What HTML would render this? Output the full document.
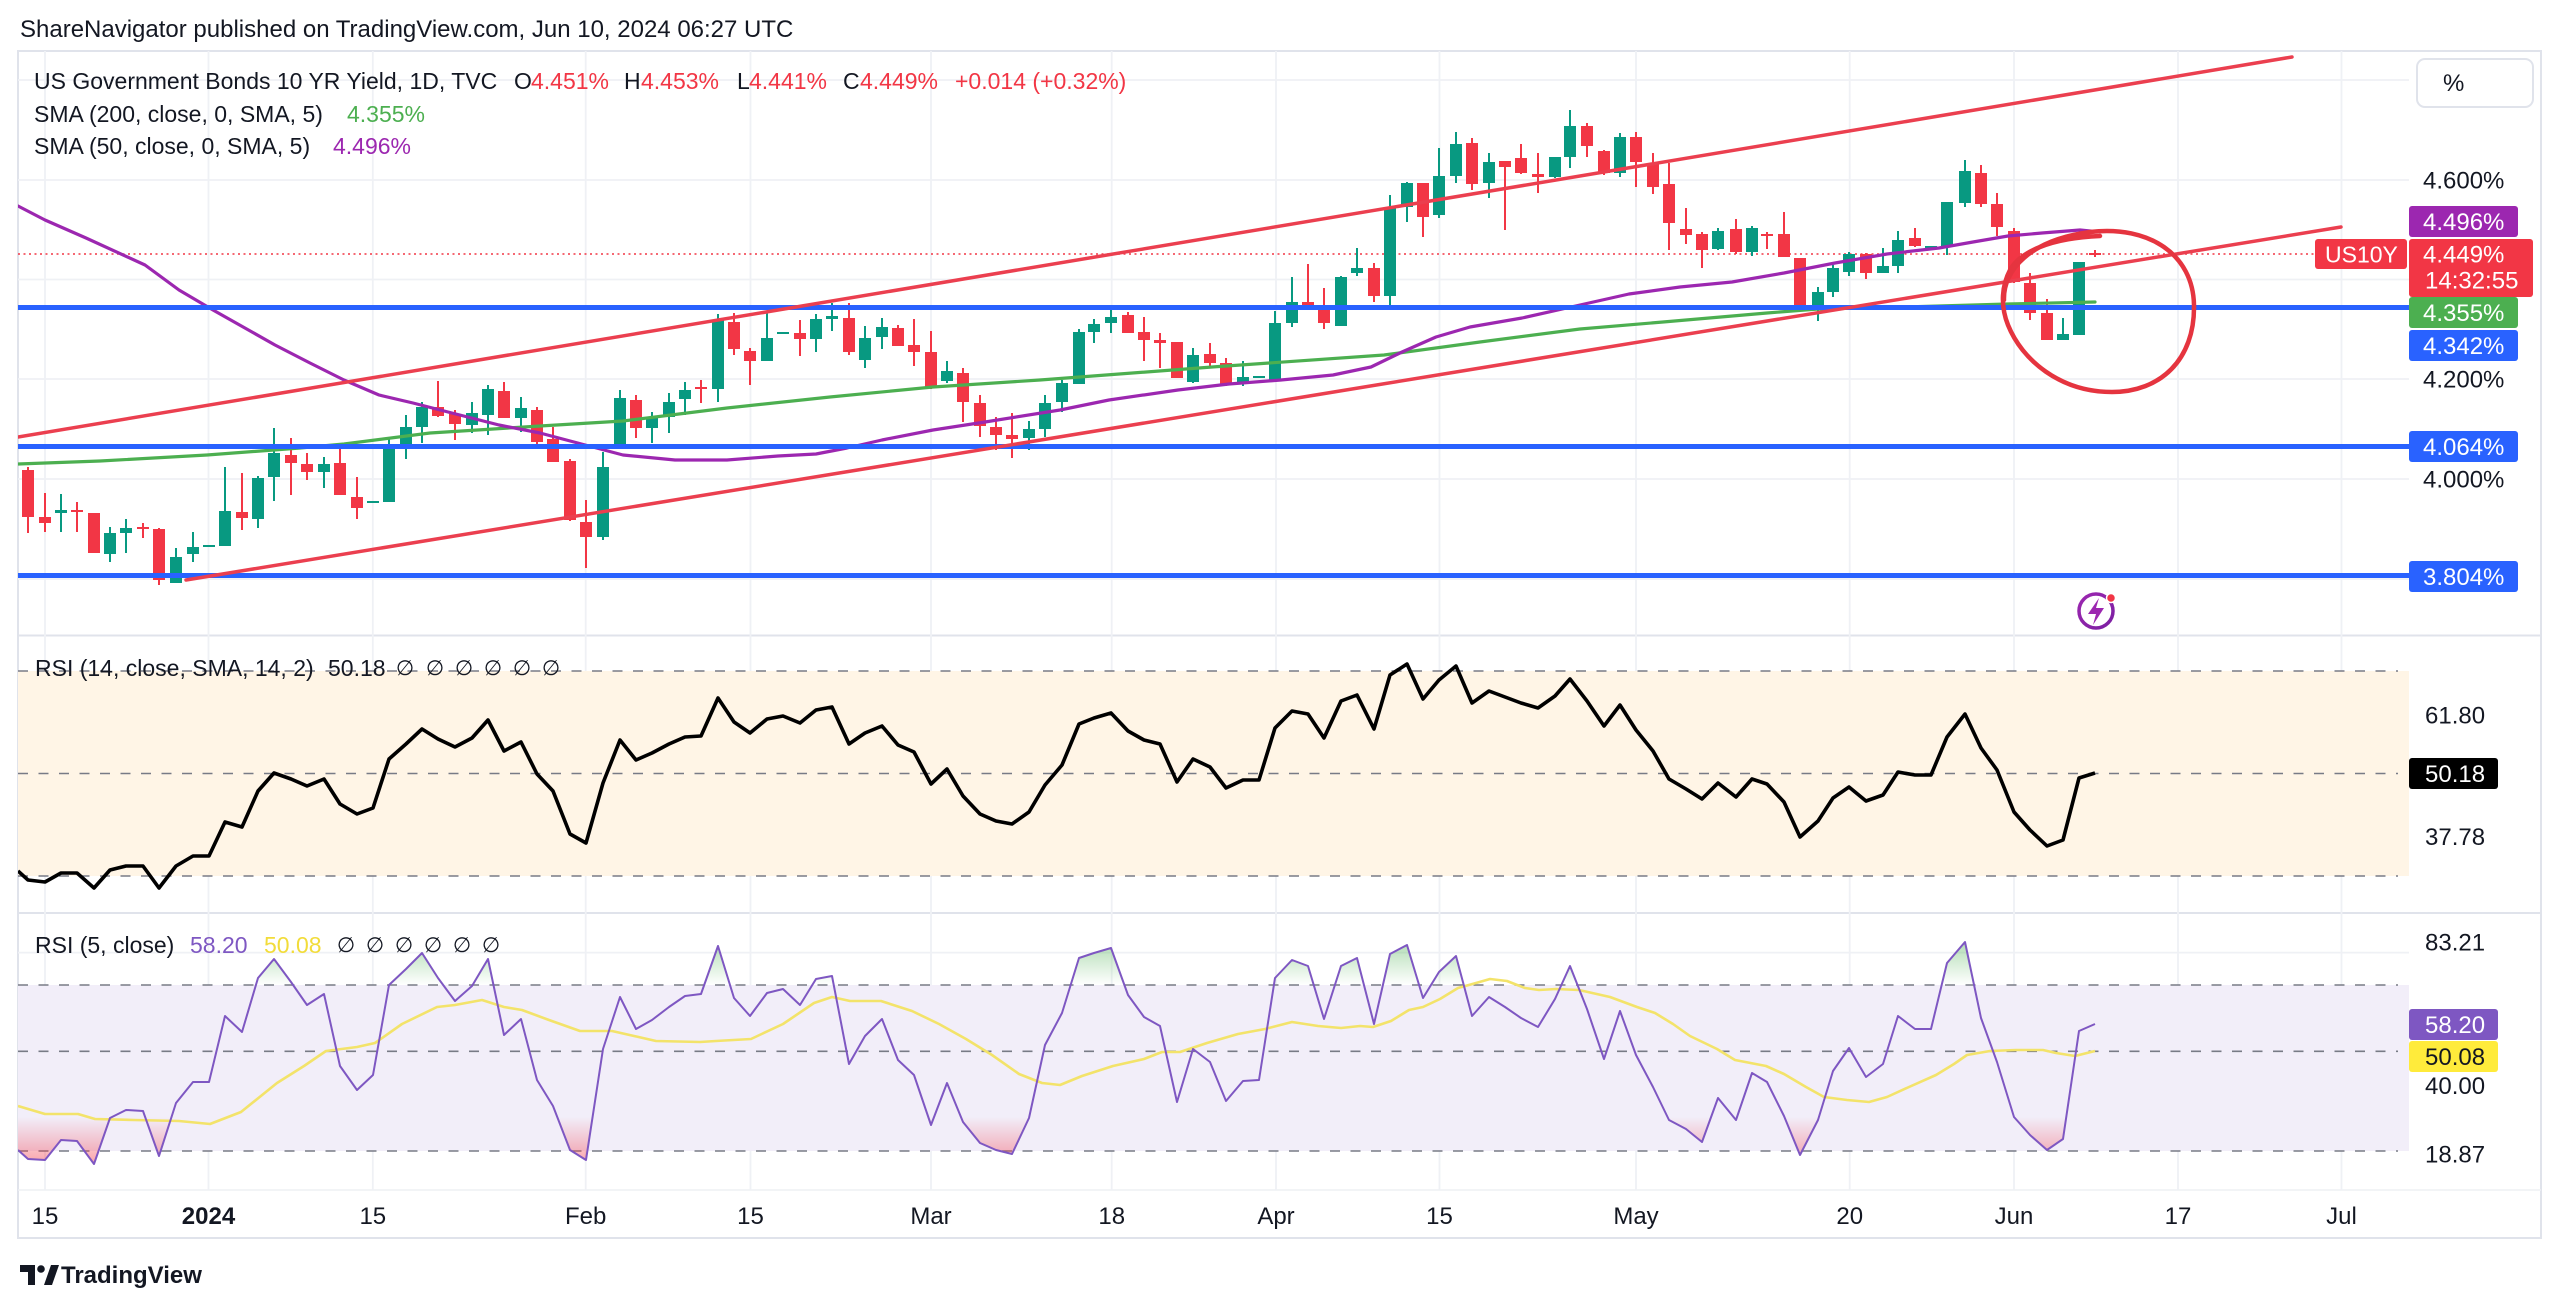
<!DOCTYPE html>
<html><head><meta charset="utf-8"><style>
html,body{margin:0;padding:0;background:#fff;}
svg{display:block;font-family:"Liberation Sans","DejaVu Sans",sans-serif;}
</style></head><body>
<svg width="2560" height="1307" viewBox="0 0 2560 1307" xmlns="http://www.w3.org/2000/svg">
<defs>
<clipPath id="plot"><rect x="18" y="51" width="2391" height="1140"/></clipPath>
<clipPath id="obClip"><rect x="18" y="900" width="2391" height="85"/></clipPath>
<clipPath id="osClip"><rect x="18" y="1117" width="2391" height="80"/></clipPath>
<linearGradient id="gGreen" gradientUnits="userSpaceOnUse" x1="0" y1="940" x2="0" y2="985"><stop offset="0" stop-color="#4CAF50" stop-opacity="0.45"/><stop offset="1" stop-color="#4CAF50" stop-opacity="0"/></linearGradient>
<linearGradient id="gRed" gradientUnits="userSpaceOnUse" x1="0" y1="1117" x2="0" y2="1163"><stop offset="0" stop-color="#F23645" stop-opacity="0"/><stop offset="1" stop-color="#F23645" stop-opacity="0.45"/></linearGradient>
<linearGradient id="gIcon" x1="0" y1="0" x2="1" y2="1"><stop offset="0" stop-color="#9C27B0"/><stop offset="1" stop-color="#7B1FA2"/></linearGradient>
</defs>

<!-- title -->
<text x="20" y="37" font-size="24" fill="#131722">ShareNavigator published on TradingView.com, Jun 10, 2024 06:27 UTC</text>

<!-- frame -->
<rect x="18" y="51" width="2523" height="1187" fill="none" stroke="#E0E3EB" stroke-width="2"/>
<line x1="18" y1="635.5" x2="2541" y2="635.5" stroke="#E0E3EB" stroke-width="2"/>
<line x1="18" y1="913" x2="2541" y2="913" stroke="#E0E3EB" stroke-width="2"/>
<line x1="18" y1="1190" x2="2541" y2="1190" stroke="#EEF0F4" stroke-width="1.5"/>

<!-- grid -->
<g stroke="#EFF1F5" stroke-width="1.8">
<line x1="45" y1="51" x2="45" y2="1190"/><line x1="208.5" y1="51" x2="208.5" y2="1190"/><line x1="372.8" y1="51" x2="372.8" y2="1190"/><line x1="585.7" y1="51" x2="585.7" y2="1190"/><line x1="750.5" y1="51" x2="750.5" y2="1190"/><line x1="931" y1="51" x2="931" y2="1190"/><line x1="1111.7" y1="51" x2="1111.7" y2="1190"/><line x1="1276" y1="51" x2="1276" y2="1190"/><line x1="1439.5" y1="51" x2="1439.5" y2="1190"/><line x1="1636" y1="51" x2="1636" y2="1190"/><line x1="1849.7" y1="51" x2="1849.7" y2="1190"/><line x1="2014" y1="51" x2="2014" y2="1190"/><line x1="2178" y1="51" x2="2178" y2="1190"/><line x1="2341.5" y1="51" x2="2341.5" y2="1190"/>
<line x1="18" y1="80" x2="2409" y2="80"/><line x1="18" y1="180" x2="2409" y2="180"/><line x1="18" y1="279.5" x2="2409" y2="279.5"/><line x1="18" y1="379" x2="2409" y2="379"/><line x1="18" y1="479" x2="2409" y2="479"/><line x1="18" y1="579" x2="2409" y2="579"/>
<line x1="18" y1="723" x2="2409" y2="723"/><line x1="18" y1="825" x2="2409" y2="825"/>
<line x1="18" y1="952.6" x2="2409" y2="952.6"/><line x1="18" y1="1018.4" x2="2409" y2="1018.4"/><line x1="18" y1="1085" x2="2409" y2="1085"/>
</g>

<!-- RSI bands -->
<rect x="18" y="671" width="2391" height="205" fill="#FFF5E6"/>
<rect x="18" y="985" width="2391" height="166" fill="#F2EEF9"/>
<g stroke="#787B86" stroke-width="1.6" stroke-dasharray="10 10.5">
<line x1="18" y1="671" x2="2398" y2="671"/><line x1="18" y1="773.5" x2="2398" y2="773.5"/><line x1="18" y1="876" x2="2398" y2="876"/>
<line x1="18" y1="985" x2="2398" y2="985"/><line x1="18" y1="1051.3" x2="2398" y2="1051.3"/><line x1="18" y1="1151" x2="2398" y2="1151"/>
</g>

<g clip-path="url(#plot)">
<!-- dotted price line -->
<line x1="18" y1="254" x2="2409" y2="254" stroke="#F23645" stroke-width="1.6" stroke-dasharray="2 3.5"/>

<!-- green candles -->
<g fill="#089981">
<rect x="55" y="510" width="12" height="3"/><rect x="60" y="494" width="2" height="38"/>
<rect x="104" y="533" width="12" height="21"/><rect x="109" y="527" width="2" height="35"/>
<rect x="120" y="528" width="12" height="5"/><rect x="125" y="519" width="2" height="34"/>
<rect x="170" y="557" width="12" height="26"/><rect x="175" y="548" width="2" height="35"/>
<rect x="187" y="547" width="12" height="7"/><rect x="192" y="532" width="2" height="30"/>
<rect x="203" y="545" width="12" height="2"/>
<rect x="219" y="511" width="12" height="35"/><rect x="224" y="467" width="2" height="79"/>
<rect x="252" y="478" width="12" height="41"/><rect x="257" y="476" width="2" height="52"/>
<rect x="268" y="453" width="12" height="24"/><rect x="273" y="428" width="2" height="73"/>
<rect x="318" y="464" width="12" height="8"/><rect x="323" y="457" width="2" height="31"/>
<rect x="367" y="501" width="12" height="2"/>
<rect x="383" y="447" width="12" height="55"/><rect x="388" y="437" width="2" height="65"/>
<rect x="400" y="427" width="12" height="20"/><rect x="405" y="415" width="2" height="44"/>
<rect x="416" y="407" width="12" height="20"/><rect x="421" y="402" width="2" height="41"/>
<rect x="466" y="413" width="12" height="12"/><rect x="471" y="402" width="2" height="31"/>
<rect x="482" y="389" width="12" height="26"/><rect x="487" y="385" width="2" height="50"/>
<rect x="515" y="408" width="12" height="10"/><rect x="520" y="397" width="2" height="35"/>
<rect x="597" y="467" width="12" height="70"/><rect x="602" y="452" width="2" height="88"/>
<rect x="614" y="398" width="12" height="47"/><rect x="619" y="390" width="2" height="55"/>
<rect x="646" y="417" width="12" height="11"/><rect x="651" y="412" width="2" height="31"/>
<rect x="663" y="402" width="12" height="15"/><rect x="668" y="393" width="2" height="40"/>
<rect x="679" y="390" width="12" height="9"/><rect x="684" y="382" width="2" height="33"/>
<rect x="712" y="320" width="12" height="69"/><rect x="717" y="314" width="2" height="88"/>
<rect x="761" y="338" width="12" height="23"/><rect x="766" y="313" width="2" height="48"/>
<rect x="777" y="332" width="12" height="2"/>
<rect x="810" y="319" width="12" height="20"/><rect x="815" y="314" width="2" height="38"/>
<rect x="826" y="316" width="12" height="3"/><rect x="831" y="303" width="2" height="28"/>
<rect x="859" y="338" width="12" height="22"/><rect x="864" y="326" width="2" height="42"/>
<rect x="876" y="327" width="12" height="10"/><rect x="881" y="318" width="2" height="31"/>
<rect x="941" y="371" width="12" height="10"/><rect x="946" y="361" width="2" height="22"/>
<rect x="1023" y="429" width="12" height="9"/><rect x="1028" y="421" width="2" height="29"/>
<rect x="1039" y="403" width="12" height="26"/><rect x="1044" y="395" width="2" height="42"/>
<rect x="1056" y="383" width="12" height="19"/><rect x="1061" y="380" width="2" height="32"/>
<rect x="1073" y="332" width="12" height="52"/><rect x="1078" y="329" width="2" height="55"/>
<rect x="1088" y="324" width="12" height="8"/><rect x="1093" y="319" width="2" height="24"/>
<rect x="1105" y="317" width="12" height="6"/><rect x="1110" y="306" width="2" height="27"/>
<rect x="1187" y="355" width="12" height="27"/><rect x="1192" y="348" width="2" height="35"/>
<rect x="1237" y="377" width="12" height="7"/><rect x="1242" y="361" width="2" height="25"/>
<rect x="1253" y="376" width="12" height="2"/>
<rect x="1269" y="323" width="12" height="57"/><rect x="1274" y="311" width="2" height="71"/>
<rect x="1286" y="302" width="12" height="21"/><rect x="1291" y="277" width="2" height="50"/>
<rect x="1335" y="277" width="12" height="49"/><rect x="1340" y="276" width="2" height="50"/>
<rect x="1351" y="268" width="12" height="5"/><rect x="1356" y="248" width="2" height="28"/>
<rect x="1384" y="207" width="12" height="89"/><rect x="1389" y="195" width="2" height="110"/>
<rect x="1401" y="183" width="12" height="24"/><rect x="1406" y="182" width="2" height="40"/>
<rect x="1433" y="176" width="12" height="39"/><rect x="1438" y="148" width="2" height="70"/>
<rect x="1450" y="144" width="12" height="32"/><rect x="1455" y="132" width="2" height="51"/>
<rect x="1483" y="162" width="12" height="21"/><rect x="1488" y="153" width="2" height="45"/>
<rect x="1549" y="157" width="12" height="20"/><rect x="1554" y="157" width="2" height="21"/>
<rect x="1564" y="126" width="12" height="31"/><rect x="1569" y="110" width="2" height="58"/>
<rect x="1614" y="137" width="12" height="36"/><rect x="1619" y="133" width="2" height="44"/>
<rect x="1712" y="231" width="12" height="18"/><rect x="1717" y="228" width="2" height="22"/>
<rect x="1746" y="228" width="12" height="24"/><rect x="1751" y="226" width="2" height="30"/>
<rect x="1812" y="292" width="12" height="16"/><rect x="1817" y="287" width="2" height="34"/>
<rect x="1827" y="268" width="12" height="24"/><rect x="1832" y="265" width="2" height="32"/>
<rect x="1843" y="254" width="12" height="18"/><rect x="1848" y="252" width="2" height="24"/>
<rect x="1877" y="266" width="12" height="7"/><rect x="1882" y="248" width="2" height="25"/>
<rect x="1892" y="240" width="12" height="26"/><rect x="1897" y="231" width="2" height="42"/>
<rect x="1925" y="246" width="12" height="2"/>
<rect x="1941" y="202" width="12" height="45"/><rect x="1946" y="202" width="2" height="53"/>
<rect x="1959" y="171" width="12" height="32"/><rect x="1964" y="160" width="2" height="47"/>
<rect x="2057" y="334" width="12" height="6"/><rect x="2062" y="318" width="2" height="22"/>
<rect x="2073" y="262" width="12" height="73"/>
</g>

<!-- red candles -->
<g fill="#F23645">
<rect x="22" y="470" width="12" height="47"/><rect x="27" y="467" width="2" height="66"/>
<rect x="39" y="517" width="12" height="6"/><rect x="44" y="493" width="2" height="39"/>
<rect x="71" y="510" width="12" height="2"/><rect x="76" y="502" width="2" height="30"/>
<rect x="88" y="513" width="12" height="40"/>
<rect x="137" y="527" width="12" height="2"/><rect x="142" y="523" width="2" height="15"/>
<rect x="153" y="529" width="12" height="51"/><rect x="158" y="528" width="2" height="57"/>
<rect x="236" y="512" width="12" height="6"/><rect x="241" y="473" width="2" height="57"/>
<rect x="285" y="455" width="12" height="8"/><rect x="290" y="438" width="2" height="57"/>
<rect x="301" y="464" width="12" height="8"/><rect x="306" y="453" width="2" height="27"/>
<rect x="334" y="463" width="12" height="32"/><rect x="339" y="447" width="2" height="48"/>
<rect x="351" y="497" width="12" height="11"/><rect x="356" y="477" width="2" height="42"/>
<rect x="432" y="407" width="12" height="9"/><rect x="437" y="381" width="2" height="36"/>
<rect x="449" y="414" width="12" height="10"/><rect x="454" y="410" width="2" height="30"/>
<rect x="498" y="391" width="12" height="27"/><rect x="503" y="382" width="2" height="36"/>
<rect x="531" y="410" width="12" height="32"/><rect x="536" y="407" width="2" height="40"/>
<rect x="547" y="439" width="12" height="23"/><rect x="552" y="427" width="2" height="35"/>
<rect x="564" y="461" width="12" height="59"/><rect x="569" y="459" width="2" height="62"/>
<rect x="580" y="522" width="12" height="15"/><rect x="585" y="500" width="2" height="68"/>
<rect x="630" y="400" width="12" height="28"/><rect x="635" y="395" width="2" height="43"/>
<rect x="695" y="387" width="12" height="2"/><rect x="700" y="380" width="2" height="23"/>
<rect x="728" y="322" width="12" height="27"/><rect x="733" y="313" width="2" height="42"/>
<rect x="744" y="351" width="12" height="10"/><rect x="749" y="348" width="2" height="37"/>
<rect x="794" y="333" width="12" height="6"/><rect x="799" y="320" width="2" height="36"/>
<rect x="843" y="318" width="12" height="34"/><rect x="848" y="303" width="2" height="52"/>
<rect x="892" y="328" width="12" height="18"/><rect x="897" y="325" width="2" height="21"/>
<rect x="908" y="345" width="12" height="7"/><rect x="913" y="319" width="2" height="47"/>
<rect x="925" y="352" width="12" height="35"/><rect x="930" y="331" width="2" height="58"/>
<rect x="957" y="373" width="12" height="29"/><rect x="962" y="368" width="2" height="54"/>
<rect x="974" y="403" width="12" height="23"/><rect x="979" y="395" width="2" height="42"/>
<rect x="990" y="427" width="12" height="8"/><rect x="995" y="417" width="2" height="33"/>
<rect x="1006" y="435" width="12" height="4"/><rect x="1011" y="413" width="2" height="45"/>
<rect x="1122" y="315" width="12" height="18"/><rect x="1127" y="312" width="2" height="21"/>
<rect x="1138" y="332" width="12" height="8"/><rect x="1143" y="317" width="2" height="44"/>
<rect x="1154" y="340" width="12" height="3"/><rect x="1159" y="333" width="2" height="35"/>
<rect x="1171" y="342" width="12" height="36"/>
<rect x="1204" y="354" width="12" height="9"/><rect x="1209" y="343" width="2" height="23"/>
<rect x="1220" y="363" width="12" height="21"/><rect x="1225" y="358" width="2" height="28"/>
<rect x="1302" y="302" width="12" height="3"/><rect x="1307" y="264" width="2" height="43"/>
<rect x="1318" y="307" width="12" height="16"/><rect x="1323" y="288" width="2" height="41"/>
<rect x="1368" y="268" width="12" height="28"/><rect x="1373" y="263" width="2" height="39"/>
<rect x="1417" y="183" width="12" height="34"/><rect x="1422" y="183" width="2" height="54"/>
<rect x="1466" y="143" width="12" height="41"/><rect x="1471" y="138" width="2" height="52"/>
<rect x="1499" y="161" width="12" height="6"/><rect x="1504" y="161" width="2" height="69"/>
<rect x="1515" y="158" width="12" height="15"/><rect x="1520" y="144" width="2" height="30"/>
<rect x="1532" y="174" width="12" height="3"/><rect x="1537" y="153" width="2" height="40"/>
<rect x="1581" y="126" width="12" height="20"/><rect x="1586" y="123" width="2" height="34"/>
<rect x="1598" y="151" width="12" height="22"/><rect x="1603" y="150" width="2" height="25"/>
<rect x="1630" y="137" width="12" height="25"/><rect x="1635" y="132" width="2" height="55"/>
<rect x="1647" y="163" width="12" height="24"/><rect x="1652" y="153" width="2" height="41"/>
<rect x="1663" y="184" width="12" height="39"/><rect x="1668" y="163" width="2" height="87"/>
<rect x="1680" y="229" width="12" height="6"/><rect x="1685" y="208" width="2" height="36"/>
<rect x="1696" y="234" width="12" height="16"/><rect x="1701" y="232" width="2" height="36"/>
<rect x="1730" y="229" width="12" height="23"/><rect x="1735" y="219" width="2" height="35"/>
<rect x="1761" y="234" width="12" height="2"/><rect x="1766" y="232" width="2" height="17"/>
<rect x="1778" y="234" width="12" height="23"/><rect x="1783" y="212" width="2" height="45"/>
<rect x="1794" y="258" width="12" height="50"/>
<rect x="1860" y="254" width="12" height="19"/><rect x="1865" y="253" width="2" height="26"/>
<rect x="1909" y="238" width="12" height="8"/><rect x="1914" y="228" width="2" height="19"/>
<rect x="1975" y="173" width="12" height="31"/><rect x="1980" y="165" width="2" height="42"/>
<rect x="1991" y="204" width="12" height="23"/><rect x="1996" y="193" width="2" height="43"/>
<rect x="2008" y="231" width="12" height="51"/><rect x="2013" y="228" width="2" height="55"/>
<rect x="2024" y="283" width="12" height="30"/><rect x="2029" y="273" width="2" height="47"/>
<rect x="2041" y="313" width="12" height="27"/><rect x="2046" y="299" width="2" height="41"/>
<rect x="2089" y="253" width="12" height="2"/><rect x="2094" y="250" width="2" height="7"/>
</g>

<!-- SMA 200 -->
<polyline fill="none" stroke="#4CAF50" stroke-width="3.2" stroke-linejoin="round" stroke-linecap="round" points="18,464 100,461 207,455 300,448 344,444 430,433 540,426 623,421 727,408 830,397 933,387 1040,380 1212,367 1384,355 1480,342 1580,329 1663,322 1767,313 1818,309 1904,307 2008,304 2095,302"/>
<!-- SMA 50 -->
<polyline fill="none" stroke="#9C27B0" stroke-width="3.2" stroke-linejoin="round" stroke-linecap="round" points="18,206 45,220 86,238 145,265 179,290 213,310 275,345 310,363 344,380 379,395 413,403 448,412 499,425 540,433 589,446 623,455 675,460 727,460 778,456 816,454 847,448 882,440 933,430 985,422 1060,410 1109,400 1178,390 1229,384 1281,380 1333,375 1371,367 1402,352 1436,337 1470,327 1522,318 1580,305 1629,294 1680,287 1732,282 1784,273 1835,263 1887,254 1939,248 1973,242 2008,236 2042,233 2080,230 2100,232"/>

<!-- blue horizontal lines -->
<g stroke="#2962FF" stroke-width="5">
<line x1="18" y1="307.5" x2="2409" y2="307.5"/>
<line x1="18" y1="446.5" x2="2409" y2="446.5"/>
<line x1="18" y1="575.5" x2="2409" y2="575.5"/>
</g>

<!-- channel lines -->
<g stroke="#EB3F4F" stroke-width="3.5" stroke-linecap="round">
<line x1="18" y1="437" x2="2292" y2="57"/>
<line x1="186" y1="580" x2="2341" y2="227"/>
</g>

<!-- hand drawn circle -->
<path d="M 2004 300 C 2003 270, 2030 240, 2090 232 C 2150 225, 2193 255, 2194 305 C 2195 360, 2160 392, 2112 392 C 2060 392, 2022 360, 2008 325 C 2000 305, 2002 285, 2010 270 C 2020 252, 2050 238, 2100 236" fill="none" stroke="#E5343F" stroke-width="4.5" stroke-linecap="round"/>

<!-- lightning icon -->
<circle cx="2096" cy="611" r="17" fill="#fff" stroke="url(#gIcon)" stroke-width="3.5"/>
<path d="M2099 598 L2088 614 L2096 614 L2093 625 L2104 608 L2096 608 Z" fill="#9C27B0"/>
<circle cx="2111" cy="598" r="4.5" fill="#F23645" stroke="#fff" stroke-width="1.5"/>

<!-- RSI 14 -->
<polyline fill="none" stroke="#000" stroke-width="3.6" stroke-linejoin="round" points="18,871 28,880 45,882 61,873 77,873 94,888 110,870 126,866 143,866 159,888 176,866 193,856 209,856 225,822 242,827 258,791 274,773 291,779 307,786 324,779 340,804 357,814 373,808 389,759 406,744 422,729 438,739 455,747 472,738 488,720 504,751 521,742 537,774 553,791 570,834 586,843 603,783 620,740 636,760 652,753 669,744 685,737 701,736 718,698 734,722 750,733 767,719 783,716 800,723 816,710 832,707 849,744 865,733 882,726 898,745 914,752 931,784 947,769 963,796 980,814 996,821 1012,824 1029,812 1045,785 1062,765 1079,724 1094,718 1111,713 1128,731 1144,740 1160,744 1177,782 1193,759 1210,767 1226,788 1243,780 1259,780 1275,728 1292,711 1308,714 1324,738 1341,701 1357,695 1374,729 1390,675 1407,664 1423,699 1439,680 1456,666 1472,703 1489,691 1505,697 1521,703 1538,708 1555,696 1570,679 1587,701 1604,726 1620,705 1636,730 1653,751 1669,779 1686,789 1702,799 1718,783 1736,797 1752,779 1767,784 1784,802 1800,837 1818,821 1833,798 1849,787 1866,801 1883,795 1898,772 1915,775 1931,775 1947,737 1965,714 1981,748 1997,770 2014,812 2030,830 2047,846 2063,840 2079,778 2095,773"/>

<!-- RSI 5 fills -->
<polygon clip-path="url(#obClip)" fill="url(#gGreen)" points="18,1150 28,1159 45,1160 61,1140 77,1141 94,1164 110,1118 126,1110 143,1111 159,1156 176,1103 193,1082 209,1082 225,1016 242,1032 258,978 274,959 291,982 307,1005 324,994 340,1066 357,1090 373,1075 389,985 406,969 422,953 438,978 455,1001 472,986 488,959 504,1035 521,1019 537,1080 553,1106 570,1150 586,1160 603,1049 620,997 636,1029 652,1020 669,1007 685,996 701,994 718,946 734,998 750,1016 767,993 783,989 800,1005 816,979 832,976 849,1064 865,1036 882,1019 898,1060 914,1075 931,1125 947,1083 963,1122 980,1143 996,1150 1012,1154 1029,1118 1045,1045 1062,1013 1079,958 1094,953 1111,948 1128,995 1144,1017 1160,1026 1177,1102 1193,1049 1210,1062 1226,1101 1243,1081 1259,1080 1275,978 1292,960 1308,966 1324,1019 1341,966 1357,958 1374,1024 1390,954 1407,945 1423,998 1439,972 1456,956 1472,1016 1489,997 1505,1007 1521,1018 1538,1027 1555,999 1570,966 1587,1009 1604,1059 1620,1011 1636,1055 1653,1087 1669,1120 1686,1129 1702,1142 1718,1098 1736,1120 1752,1073 1767,1082 1784,1116 1800,1155 1818,1120 1833,1071 1849,1048 1866,1077 1883,1064 1898,1016 1915,1029 1931,1029 1947,963 1965,942 1981,1018 1997,1062 2014,1117 2030,1135 2047,1150 2063,1139 2079,1031 2095,1024 2095,985 18,985"/>
<polygon clip-path="url(#osClip)" fill="url(#gRed)" points="18,1150 28,1159 45,1160 61,1140 77,1141 94,1164 110,1118 126,1110 143,1111 159,1156 176,1103 193,1082 209,1082 225,1016 242,1032 258,978 274,959 291,982 307,1005 324,994 340,1066 357,1090 373,1075 389,985 406,969 422,953 438,978 455,1001 472,986 488,959 504,1035 521,1019 537,1080 553,1106 570,1150 586,1160 603,1049 620,997 636,1029 652,1020 669,1007 685,996 701,994 718,946 734,998 750,1016 767,993 783,989 800,1005 816,979 832,976 849,1064 865,1036 882,1019 898,1060 914,1075 931,1125 947,1083 963,1122 980,1143 996,1150 1012,1154 1029,1118 1045,1045 1062,1013 1079,958 1094,953 1111,948 1128,995 1144,1017 1160,1026 1177,1102 1193,1049 1210,1062 1226,1101 1243,1081 1259,1080 1275,978 1292,960 1308,966 1324,1019 1341,966 1357,958 1374,1024 1390,954 1407,945 1423,998 1439,972 1456,956 1472,1016 1489,997 1505,1007 1521,1018 1538,1027 1555,999 1570,966 1587,1009 1604,1059 1620,1011 1636,1055 1653,1087 1669,1120 1686,1129 1702,1142 1718,1098 1736,1120 1752,1073 1767,1082 1784,1116 1800,1155 1818,1120 1833,1071 1849,1048 1866,1077 1883,1064 1898,1016 1915,1029 1931,1029 1947,963 1965,942 1981,1018 1997,1062 2014,1117 2030,1135 2047,1150 2063,1139 2079,1031 2095,1024 2095,1117 18,1117"/>

<!-- RSI 5 MA (yellow) -->
<polyline fill="none" stroke="#F3E36A" stroke-width="2.6" stroke-linejoin="round" points="18,1106 45,1114 78,1114 95,1119 134,1120 179,1121 210,1124 241,1112 277,1083 304,1066 326,1051 357,1047 375,1043 402,1024 437,1007 455,1005 482,1000 504,1007 522,1010 549,1020 580,1031 612,1031 656,1041 700,1042 716,1041 751,1039 783,1024 814,1003 832,997 850,1001 881,1001 912,1011 939,1024 966,1039 992,1055 1019,1074 1042,1083 1060,1085 1082,1076 1113,1066 1144,1059 1162,1052 1180,1052 1207,1043 1238,1034 1265,1029 1292,1022 1318,1026 1341,1028 1360,1026 1373,1027 1391,1021 1409,1010 1423,1007 1440,999 1458,988 1476,983 1490,979 1507,981 1525,988 1539,990 1556,989 1579,990 1610,997 1637,1007 1655,1013 1673,1024 1690,1036 1717,1049 1735,1060 1766,1066 1784,1074 1806,1087 1824,1097 1847,1100 1869,1102 1887,1097 1909,1087 1936,1075 1954,1064 1967,1055 1990,1051 2016,1050 2043,1050 2056,1053 2075,1056 2095,1051"/>
<!-- RSI 5 -->
<polyline fill="none" stroke="#7E57C2" stroke-width="2" stroke-linejoin="round" points="18,1150 28,1159 45,1160 61,1140 77,1141 94,1164 110,1118 126,1110 143,1111 159,1156 176,1103 193,1082 209,1082 225,1016 242,1032 258,978 274,959 291,982 307,1005 324,994 340,1066 357,1090 373,1075 389,985 406,969 422,953 438,978 455,1001 472,986 488,959 504,1035 521,1019 537,1080 553,1106 570,1150 586,1160 603,1049 620,997 636,1029 652,1020 669,1007 685,996 701,994 718,946 734,998 750,1016 767,993 783,989 800,1005 816,979 832,976 849,1064 865,1036 882,1019 898,1060 914,1075 931,1125 947,1083 963,1122 980,1143 996,1150 1012,1154 1029,1118 1045,1045 1062,1013 1079,958 1094,953 1111,948 1128,995 1144,1017 1160,1026 1177,1102 1193,1049 1210,1062 1226,1101 1243,1081 1259,1080 1275,978 1292,960 1308,966 1324,1019 1341,966 1357,958 1374,1024 1390,954 1407,945 1423,998 1439,972 1456,956 1472,1016 1489,997 1505,1007 1521,1018 1538,1027 1555,999 1570,966 1587,1009 1604,1059 1620,1011 1636,1055 1653,1087 1669,1120 1686,1129 1702,1142 1718,1098 1736,1120 1752,1073 1767,1082 1784,1116 1800,1155 1818,1120 1833,1071 1849,1048 1866,1077 1883,1064 1898,1016 1915,1029 1931,1029 1947,963 1965,942 1981,1018 1997,1062 2014,1117 2030,1135 2047,1150 2063,1139 2079,1031 2095,1024"/>
</g>

<!-- legends -->
<g font-size="23" fill="#131722">
<text x="34" y="89">US Government Bonds 10 YR Yield, 1D, TVC</text>
<text x="514" y="89">O</text><text x="531" y="89" fill="#F23645">4.451%</text>
<text x="624" y="89">H</text><text x="641" y="89" fill="#F23645">4.453%</text>
<text x="737" y="89">L</text><text x="749" y="89" fill="#F23645">4.441%</text>
<text x="843" y="89">C</text><text x="860" y="89" fill="#F23645">4.449%</text>
<text x="955" y="89" fill="#F23645">+0.014 (+0.32%)</text>
<text x="34" y="122">SMA (200, close, 0, SMA, 5)</text><text x="347" y="122" fill="#4CAF50">4.355%</text>
<text x="34" y="154">SMA (50, close, 0, SMA, 5)</text><text x="333" y="154" fill="#9C27B0">4.496%</text>
<text x="35" y="676">RSI (14, close, SMA, 14, 2)</text><text x="328" y="676">50.18</text>
<text x="35" y="953">RSI (5, close)</text><text x="190" y="953" fill="#7E57C2">58.20</text><text x="264" y="953" fill="#F2DC3A">50.08</text>
</g>
<g font-size="21" fill="#131722" text-anchor="middle" font-family="DejaVu Sans, sans-serif">
<text x="405" y="675">∅</text><text x="435" y="675">∅</text><text x="464" y="675">∅</text><text x="493" y="675">∅</text><text x="522" y="675">∅</text><text x="551" y="675">∅</text>
<text x="346" y="952">∅</text><text x="375" y="952">∅</text><text x="404" y="952">∅</text><text x="433" y="952">∅</text><text x="462" y="952">∅</text><text x="491" y="952">∅</text>
</g>

<!-- % button -->
<rect x="2417" y="59" width="116" height="48" rx="8" fill="#fff" stroke="#E0E3EB" stroke-width="2"/>
<text x="2443" y="91" font-size="24" fill="#131722">%</text>

<!-- price axis labels -->
<g font-size="24">
<text x="2423" y="188.5" fill="#131722">4.600%</text>
<text x="2423" y="387.5" fill="#131722">4.200%</text>
<text x="2423" y="487.5" fill="#131722">4.000%</text>
<rect x="2409" y="206" width="109" height="31" rx="3" fill="#9C27B0"/>
<text x="2423" y="230" fill="#fff">4.496%</text>
<rect x="2315" y="239" width="92" height="30" rx="3" fill="#F23645"/>
<text x="2325" y="262.5" fill="#fff" font-size="23">US10Y</text>
<rect x="2409" y="239" width="124" height="58" rx="3" fill="#F23645"/>
<text x="2423" y="262.5" fill="#fff">4.449%</text>
<text x="2425" y="288.5" fill="#fff">14:32:55</text>
<rect x="2409" y="297" width="109" height="31" rx="3" fill="#4CAF50"/>
<text x="2423" y="321" fill="#fff">4.355%</text>
<rect x="2409" y="330" width="109" height="31" rx="3" fill="#2962FF"/>
<text x="2423" y="354" fill="#fff">4.342%</text>
<rect x="2409" y="431" width="109" height="31" rx="3" fill="#2962FF"/>
<text x="2423" y="455" fill="#fff">4.064%</text>
<rect x="2409" y="561" width="109" height="31" rx="3" fill="#2962FF"/>
<text x="2423" y="585" fill="#fff">3.804%</text>

<text x="2425" y="723.5" fill="#131722">61.80</text>
<rect x="2409" y="758" width="89" height="31" rx="3" fill="#000"/>
<text x="2425" y="782" fill="#fff">50.18</text>
<text x="2425" y="845" fill="#131722">37.78</text>
<text x="2425" y="950.5" fill="#131722">83.21</text>
<rect x="2409" y="1009" width="89" height="31" rx="3" fill="#7E57C2"/>
<text x="2425" y="1033" fill="#fff">58.20</text>
<rect x="2409" y="1041" width="89" height="31" rx="3" fill="#FFEB3B"/>
<text x="2425" y="1065" fill="#131722">50.08</text>
<text x="2425" y="1094" fill="#131722">40.00</text>
<text x="2425" y="1162.5" fill="#131722">18.87</text>
</g>

<!-- time axis -->
<g font-size="24" fill="#131722" text-anchor="middle">
<text x="45" y="1224">15</text>
<text x="208.5" y="1224" font-weight="bold">2024</text>
<text x="372.8" y="1224">15</text>
<text x="585.7" y="1224">Feb</text>
<text x="750.5" y="1224">15</text>
<text x="931" y="1224">Mar</text>
<text x="1111.7" y="1224">18</text>
<text x="1276" y="1224">Apr</text>
<text x="1439.5" y="1224">15</text>
<text x="1636" y="1224">May</text>
<text x="1849.7" y="1224">20</text>
<text x="2014" y="1224">Jun</text>
<text x="2178" y="1224">17</text>
<text x="2341.5" y="1224">Jul</text>
</g>

<!-- TradingView logo -->
<g fill="#131722">
<path d="M20 1265 h15 v20 h-7 v-13 h-8 z"/>
<circle cx="41" cy="1269" r="3.8"/>
<path d="M44 1285 L51 1265 L59 1265 L52 1285 Z"/>
</g>
<text x="61" y="1283" font-size="24" font-weight="bold" fill="#131722">TradingView</text>
</svg>
</body></html>
